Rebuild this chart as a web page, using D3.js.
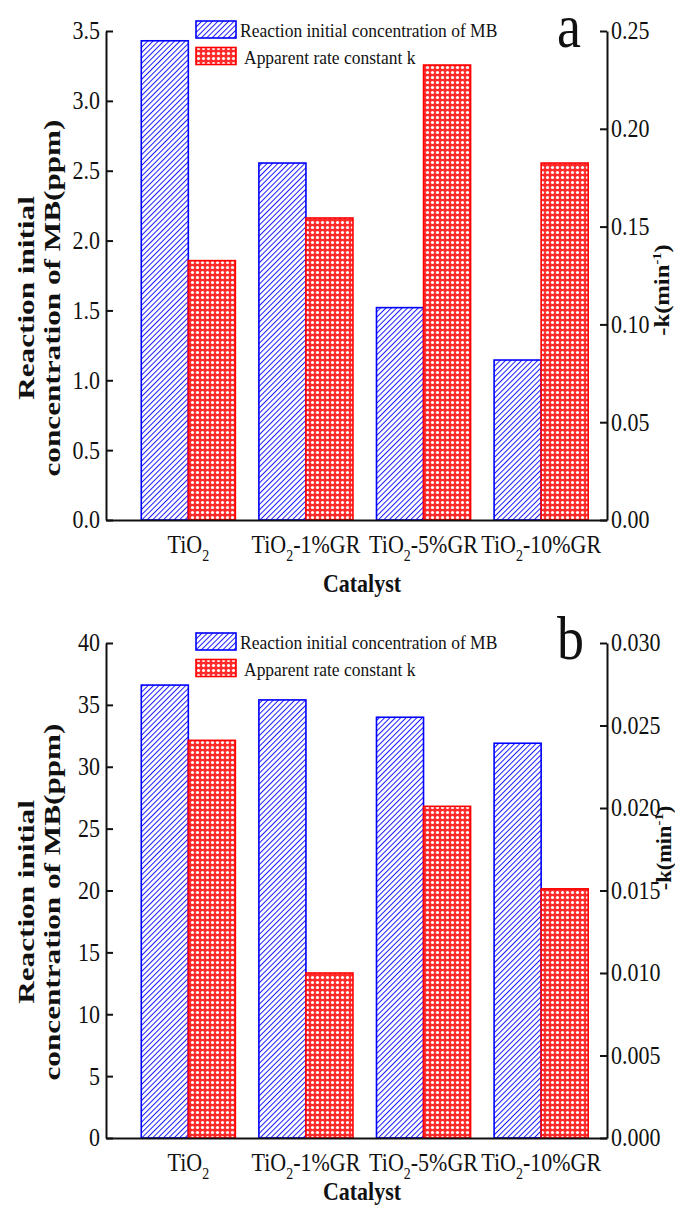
<!DOCTYPE html>
<html>
<head>
<meta charset="utf-8">
<script src="https://cdn.jsdelivr.net/npm/d3@7"></script>
<style>
  body { margin: 0; background: #fff; }
  text { font-family: "Liberation Serif", "Times New Roman", serif; fill: #111; }
</style>
</head>
<body>
<svg id="chart"></svg>
<script>
// data
const catalysts = ["TiO2", "TiO2-1%GR", "TiO2-5%GR", "TiO2-10%GR"];
const concA = [3.43, 2.555, 1.52, 1.145];      // ppm, left axis (a)
const rateA = [0.1326, 0.1544, 0.2326, 0.1825]; // min-1, right axis (a)
const concB = [36.6, 35.4, 34.0, 31.9];         // ppm, left axis (b)
const rateB = [0.0241, 0.0100, 0.0201, 0.0151]; // min-1, right axis (b)
const leftTicksA = [0, 0.5, 1.0, 1.5, 2.0, 2.5, 3.0, 3.5];
const rightTicksA = [0, 0.05, 0.10, 0.15, 0.20, 0.25];
const leftTicksB = [0, 5, 10, 15, 20, 25, 30, 35, 40];
const rightTicksB = [0, 0.005, 0.010, 0.015, 0.020, 0.025, 0.030];
const legendLabels = ["Reaction initial concentration of  MB", "Apparent rate constant k"];

const W = 675, H = 1205;
const STRETCH = 1.12; // the reference is a bit taller than wide

const svg = d3.select("#chart").attr("width", W).attr("height", H);

/* Patterns */
const defs = svg.append("defs");
const hatch = defs.append("pattern")
    .attr("id", "hatch")
    .attr("patternUnits", "userSpaceOnUse")
    .attr("width", 3.8).attr("height", 3.8)
    .attr("patternTransform", "rotate(45)");
hatch.append("rect").attr("width", 3.8).attr("height", 3.8).attr("fill", "#fff");
hatch.append("line")
    .attr("x1", 0).attr("y1", 0).attr("x2", 0).attr("y2", 3.8)
    .attr("stroke", "#1a1aff").attr("stroke-width", 2);

const cross = defs.append("pattern")
    .attr("id", "cross")
    .attr("patternUnits", "userSpaceOnUse")
    .attr("width", 5).attr("height", 5);
cross.append("rect").attr("width", 5).attr("height", 5).attr("fill", "#ff2a2a");
cross.append("circle").attr("cx", 2.5).attr("cy", 2.5).attr("r", 1.6).attr("fill", "#fff");

function drawPanel(cfg) {
    const g = svg.append("g");

    /* Scales */
    const x = d3.scaleLinear().domain([0.3, 4.56]).range([106, 607]);
    const yL = d3.scaleLinear().domain([0, cfg.leftMax]).range([cfg.y0, cfg.y1]);
    const yR = d3.scaleLinear().domain([0, cfg.rightMax]).range([cfg.y0, cfg.y1]);
    const bw = 0.4;

    /* Bars */
    g.append("g").selectAll("rect")
        .data(cfg.conc).enter()
        .append("rect")
        .attr("x", (d, i) => x(i + 1 - bw))
        .attr("width", x(1) - x(1 - bw))
        .attr("y", d => yL(d))
        .attr("height", d => yL(0) - yL(d))
        .attr("fill", "url(#hatch)")
        .attr("stroke", "#0000ff").attr("stroke-width", 1.6);

    g.append("g").selectAll("rect")
        .data(cfg.rate).enter()
        .append("rect")
        .attr("x", (d, i) => x(i + 1))
        .attr("width", x(1 + bw) - x(1))
        .attr("y", d => yR(d))
        .attr("height", d => yR(0) - yR(d))
        .attr("fill", "url(#cross)")
        .attr("stroke", "#ff0000").attr("stroke-width", 1.6);

    /* Axes */
    const yAxisL = d3.axisLeft(yL).tickValues(cfg.leftTicks).tickFormat(d3.format(cfg.leftFmt))
        .tickSizeInner(-7).tickSizeOuter(0).tickPadding(6);
    const yAxisR = d3.axisRight(yR).tickValues(cfg.rightTicks).tickFormat(d3.format(cfg.rightFmt))
        .tickSizeInner(-7).tickSizeOuter(0).tickPadding(4);
    const xAxis = d3.axisBottom(x).tickValues([]).tickSizeOuter(0);

    g.append("g").attr("class", "xAxis axis")
        .attr("transform", `translate(0, ${cfg.y0})`)
        .call(xAxis);
    g.append("g").attr("class", "yAxis axis")
        .attr("transform", "translate(106, 0)")
        .call(yAxisL);
    g.append("g").attr("class", "yAxis axis")
        .attr("transform", "translate(607, 0)")
        .call(yAxisR);

    g.selectAll(".axis path, .axis line").attr("stroke", "#111").attr("stroke-width", 2);
    g.selectAll(".axis text")
        .style("font-family", "Liberation Serif")
        .style("font-size", "22px")
        .attr("fill", "#111")
        .attr("transform", `scale(1, ${STRETCH})`);

    /* Category labels with subscript */
    g.append("g").selectAll("text")
        .data(catalysts).enter()
        .append("text")
        .attr("transform", (d, i) => `translate(${x(i + 1)}, ${cfg.y0 + 33}) scale(1, ${STRETCH})`)
        .attr("text-anchor", "middle")
        .style("font-size", "22px")
        .each(function(d) {
            const t = d3.select(this);
            t.append("tspan").text("TiO");
            t.append("tspan").attr("dy", 7).style("font-size", "14px").text("2");
            const rest = d.replace("TiO2", "");
            if (rest) t.append("tspan").attr("dy", -7).text(rest);
        });

    /* Axis titles */
    g.append("text")
        .attr("transform", `translate(362, ${cfg.catY}) scale(1, ${STRETCH})`)
        .attr("text-anchor", "middle")
        .style("font-size", "22px").style("font-weight", "bold")
        .text("Catalyst");

    ["Reaction initial", "concentration of MB(ppm)"].forEach((s, i) => {
        g.append("text")
            .attr("transform", `translate(${34 + i * 26}, ${cfg.leftTitleY}) rotate(-90) scale(1.3, 1)`)
            .attr("text-anchor", "middle")
            .style("font-size", "24px").style("font-weight", "bold")
            .text(s);
    });

    const kt = g.append("text")
        .attr("transform", `translate(${cfg.rightTitleX}, ${cfg.rightTitleY}) rotate(-90) scale(${STRETCH}, 1)`)
        .attr("text-anchor", "middle")
        .style("font-size", cfg.rightTitleSize).style("font-weight", "bold");
    kt.append("tspan").text("-k(min");
    kt.append("tspan").attr("dy", -8).style("font-size", "13px").text("-1");
    kt.append("tspan").attr("dy", 8).text(")");

    /* Panel letter */
    g.append("text")
        .attr("transform", `translate(557, ${cfg.y1 + 16}) scale(1, ${STRETCH})`)
        .style("font-size", "54px")
        .text(cfg.letter);

    /* Legend */
    const lg = g.append("g").attr("transform", `translate(196, ${cfg.y1 - 10})`);
    const fills = ["url(#hatch)", "url(#cross)"];
    const strokes = ["#0000ff", "#ff0000"];
    legendLabels.forEach((s, i) => {
        lg.append("rect")
            .attr("x", 0).attr("y", i * 26.5)
            .attr("width", 40).attr("height", 17)
            .attr("fill", fills[i]).attr("stroke", strokes[i]).attr("stroke-width", 1.6);
        lg.append("text")
            .attr("transform", `translate(${44 + i * 4}, ${i * 26.5 + 16}) scale(1, ${STRETCH})`)
            .style("font-size", "17.5px")
            .text(s);
    });
}

drawPanel({
    conc: concA, rate: rateA,
    leftMax: 3.5, rightMax: 0.25,
    leftTicks: leftTicksA, rightTicks: rightTicksA,
    leftFmt: ".1f", rightFmt: ".2f",
    y0: 520, y1: 31, letter: "a",
    catY: 592, leftTitleY: 298, rightTitleX: 669, rightTitleY: 290, rightTitleSize: "22px"
});

drawPanel({
    conc: concB, rate: rateB,
    leftMax: 40, rightMax: 0.03,
    leftTicks: leftTicksB, rightTicks: rightTicksB,
    leftFmt: "d", rightFmt: ".3f",
    y0: 1138, y1: 643, letter: "b",
    catY: 1200, leftTitleY: 902, rightTitleX: 671, rightTitleY: 848, rightTitleSize: "20px"
});
</script>
</body>
</html>
